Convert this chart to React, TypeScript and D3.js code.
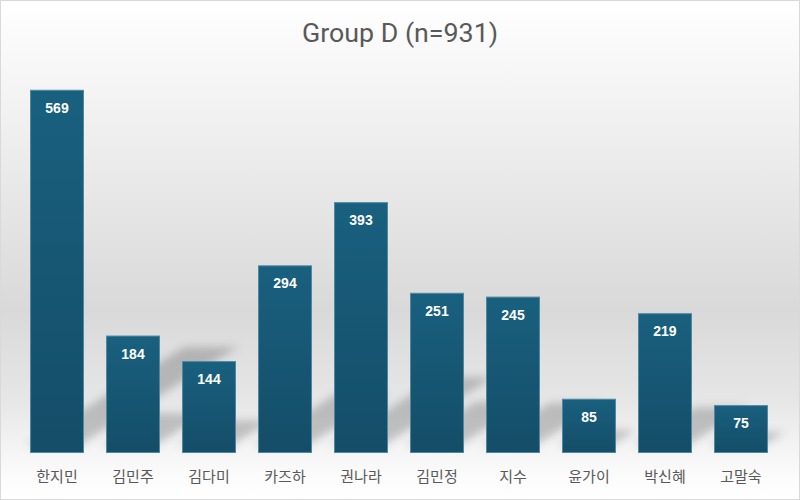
import * as d3 from 'd3';
import { useEffect } from 'react';

const names = ['한지민', '김민주', '김다미', '카즈하', '권나라', '김민정', '지수', '윤가이', '박신혜', '고말숙'];
const counts = [569, 184, 144, 294, 393, 251, 245, 85, 219, 75];
const title = 'Group D (n=931)';

function App() {
  const width = 800;
  const height = 500;
  const baseY = 453;

  useEffect(() => {
    document.body.style.margin = '0';
  }, []);

  const x = d3.scaleBand<string>().domain(names).range([8, 790]).padding(0.29);
  const y = d3.scaleLinear().domain([0, 600]).range([baseY, 70]);

  // perspective shadow: the bar squashed and leaned up-right from its base
  const shadowPath = (name: string, v: number) => {
    const x0 = (x(name) as number) - 4;
    const w = x.bandwidth();
    const h = baseY - y(v);
    const dy = h * 0.27;
    const dx = dy / 0.62;
    const b = baseY - 8;
    const p = d3.path();
    p.moveTo(x0, b);
    p.lineTo(x0 + w, b);
    p.lineTo(x0 + w + dx, b - dy);
    p.lineTo(x0 + dx, b - dy);
    p.closePath();
    return p.toString();
  };

  return (
    <svg
      width={width}
      height={height}
      style={{ display: 'block', position: 'absolute', left: 0, top: 0 }}
    >
      <defs>
        <linearGradient id="bg" x1="0" y1="0" x2="0" y2="1">
          <stop offset="0" stopColor="#ffffff" />
          <stop offset="0.62" stopColor="#d9d9d9" />
          <stop offset="0.8" stopColor="#e6e6e6" />
          <stop offset="0.95" stopColor="#fbfbfb" />
          <stop offset="1" stopColor="#ffffff" />
        </linearGradient>
        <linearGradient id="bar" x1="0" y1="0" x2="0" y2="1">
          <stop offset="0" stopColor="#19607f" />
          <stop offset="1" stopColor="#144d68" />
        </linearGradient>
        <filter id="blur" x="-20%" y="-50%" width="140%" height="200%">
          <feGaussianBlur stdDeviation="4" />
        </filter>
      </defs>
      <rect x={0.5} y={0.5} width={width - 1} height={height - 1} fill="url(#bg)" stroke="#d9d9d9" />
      <text
        x={width / 2}
        y={42}
        textAnchor="middle"
        fontFamily="'Liberation Sans Narrow', 'Arial Narrow', 'Roboto', sans-serif"
        fontSize={26}
        textLength={196}
        lengthAdjust="spacingAndGlyphs"
        fill="#595959"
      >
        {title}
      </text>
      <g filter="url(#blur)">
        {names.map((n, i) => (
          <path key={n} d={shadowPath(n, counts[i])} fill="#000" opacity={0.2} />
        ))}
      </g>
      {names.map((n, i) => (
        <g key={n}>
          <rect
            x={(x(n) as number) + 0.5}
            y={y(counts[i]) + 0.5}
            width={x.bandwidth() - 1}
            height={baseY - y(counts[i]) - 1}
            fill="url(#bar)"
            stroke="#4f88a2"
            strokeWidth={1}
          />
          <text
            x={(x(n) as number) + x.bandwidth() / 2}
            y={y(counts[i]) + 23}
            textAnchor="middle"
            fontFamily="'Liberation Sans', Arial, sans-serif"
            fontWeight="bold"
            fontSize={14}
            fill="#ffffff"
          >
            {counts[i]}
          </text>
          <text
            x={(x(n) as number) + x.bandwidth() / 2}
            y={482}
            textAnchor="middle"
            fontFamily="'Noto Sans CJK KR', sans-serif"
            fontSize={15}
            fill="#595959"
          >
            {n}
          </text>
        </g>
      ))}
    </svg>
  );
}

export default App;
